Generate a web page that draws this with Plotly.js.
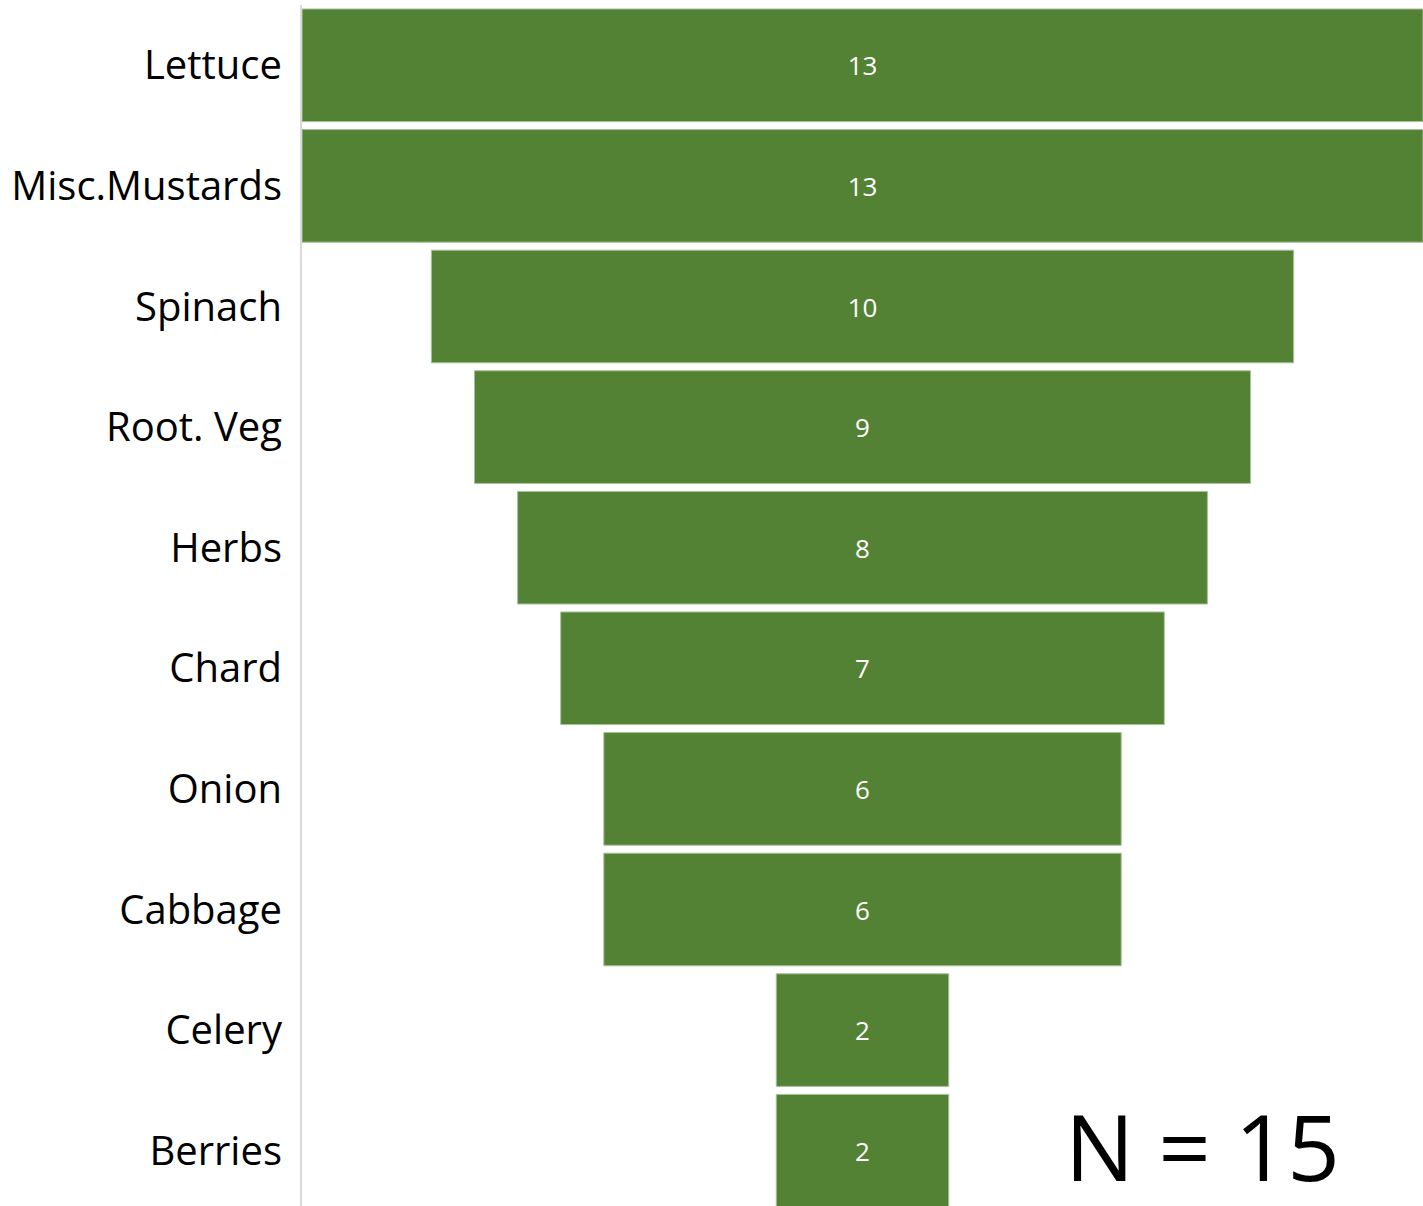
<!DOCTYPE html>
<html>
<head>
<meta charset="utf-8">
<script src="https://cdn.plot.ly/plotly-3.0.1.min.js"></script>
<style>html,body{margin:0;padding:0;background:#fff;overflow:hidden;}#chart{width:1423px;height:1211px;}</style>
</head>
<body>
<div id="chart"></div>
<script>
const categories = ["Lettuce", "Misc.Mustards", "Spinach", "Root. Veg", "Herbs", "Chard", "Onion", "Cabbage", "Celery", "Berries"];
const counts = [13, 13, 10, 9, 8, 7, 6, 6, 2, 2];
const sampleNote = "N = 15";

const trace = {
  type: 'funnel',
  y: categories,
  x: counts,
  textinfo: 'value',
  textposition: 'inside',
  insidetextanchor: 'middle',
  textfont: {family: 'Open Sans, sans-serif', size: 26, color: '#ffffff'},
  marker: {color: '#548235', line: {color: '#a9c19a', width: 1}},
  connector: {visible: false},
  hoverinfo: 'y+x'
};

const layout = {
  width: 1423, height: 1211,
  margin: {l: 302, r: 0, t: 5, b: 0, pad: 0},
  paper_bgcolor: '#ffffff', plot_bgcolor: '#ffffff',
  showlegend: false,
  funnelgap: 0.066,
  xaxis: {visible: false, range: [-6.5, 6.5]},
  yaxis: {
    showline: true, linecolor: '#d9d9d9', linewidth: 2,
    ticks: '', ticklabelstandoff: 10,
    tickfont: {family: 'Open Sans, sans-serif', size: 40, color: '#000000'},
    automargin: false
  },
  font: {family: 'Open Sans, sans-serif'},
  annotations: [{
    xref: 'paper', yref: 'paper', x: 0.803, y: 0.054,
    xanchor: 'center', yanchor: 'middle', showarrow: false,
    text: sampleNote,
    font: {family: 'Open Sans, sans-serif', size: 92, color: '#000000'}
  }]
};

Plotly.newPlot('chart', [trace], layout, {displayModeBar: false, staticPlot: true});
</script>
</body>
</html>
